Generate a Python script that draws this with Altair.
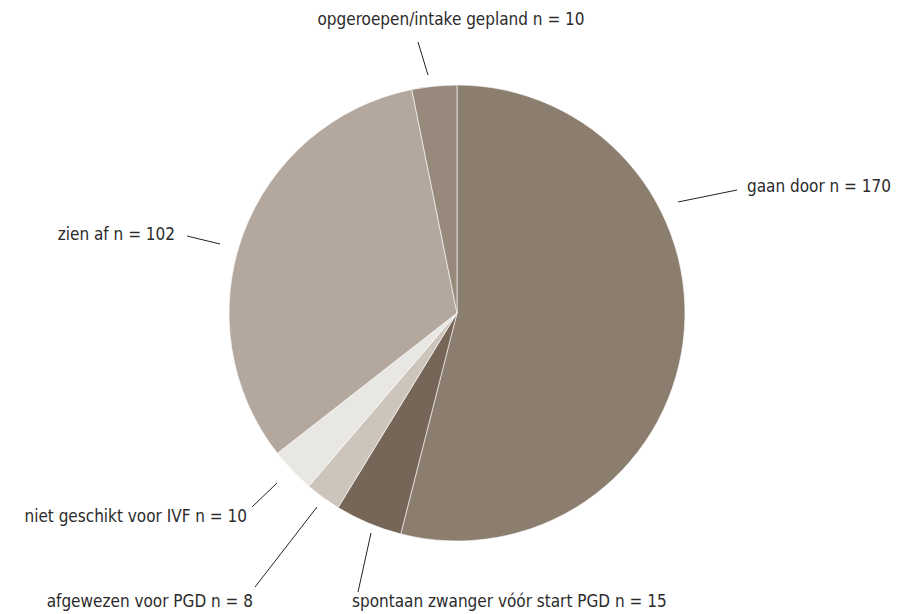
import altair as alt
import pandas as pd

# Data
categories = ["gaan door", "spontaan zwanger vóór start PGD", "afgewezen voor PGD",
              "niet geschikt voor IVF", "zien af", "opgeroepen/intake gepland"]
counts = [170, 15, 8, 10, 102, 10]
colors = ["#8c7e6f", "#756657", "#cdc4bc", "#e9e7e3", "#b4a89e", "#978a7d"]

# Annotation layout (pixels within the chart area)
lbl_x = [739, 344, 245, 239, 167, 443]
lbl_y = [179, 594, 594, 509, 227, 12]
lbl_align = ["left", "left", "right", "right", "right", "center"]
line_x1 = [670, 350, 247, 244, 179, 410]
line_y1 = [194, 584, 579, 499, 228, 34]
line_x2 = [729, 363, 309, 269, 212, 420]
line_y2 = [182, 525, 499, 475, 236, 67]

CX, CY, R = 449, 305, 228

pie_df = pd.DataFrame({"cat": categories, "n": counts, "order": list(range(len(categories)))})
lab_df = pd.DataFrame({
    "label": [f"{c} n = {n}" for c, n in zip(categories, counts)],
    "x": lbl_x, "y": lbl_y, "align": lbl_align,
})
line_df = pd.DataFrame({"x": line_x1, "y": line_y1, "x2": line_x2, "y2": line_y2})

pie = alt.Chart(pie_df).mark_arc(outerRadius=R, stroke="white", strokeWidth=0.6).encode(
    theta=alt.Theta("n:Q", stack=True),
    order=alt.Order("order:Q"),
    color=alt.Color("cat:N", scale=alt.Scale(domain=categories, range=colors), legend=None),
    x=alt.value(CX), y=alt.value(CY),
)

lines = alt.Chart(line_df).mark_rule(color="#222222", strokeWidth=1).encode(
    x=alt.X("x:Q", scale=None), y=alt.Y("y:Q", scale=None),
    x2="x2:Q", y2="y2:Q",
)

font = "DejaVu Sans Condensed, Roboto, sans-serif"
texts = []
for a in ["left", "right", "center"]:
    texts.append(
        alt.Chart(lab_df[lab_df["align"] == a]).mark_text(
            align=a, baseline="middle", fontSize=17, font=font, color="#2b2b2b"
        ).encode(
            x=alt.X("x:Q", scale=None), y=alt.Y("y:Q", scale=None), text="label:N"
        )
    )

chart = alt.layer(pie, lines, *texts).properties(
    width=885, height=604, padding=0,
    autosize=alt.AutoSizeParams(type="none"),
).configure_view(stroke=None)

chart.save("out.html", embed_options={"renderer": "svg", "actions": False})
